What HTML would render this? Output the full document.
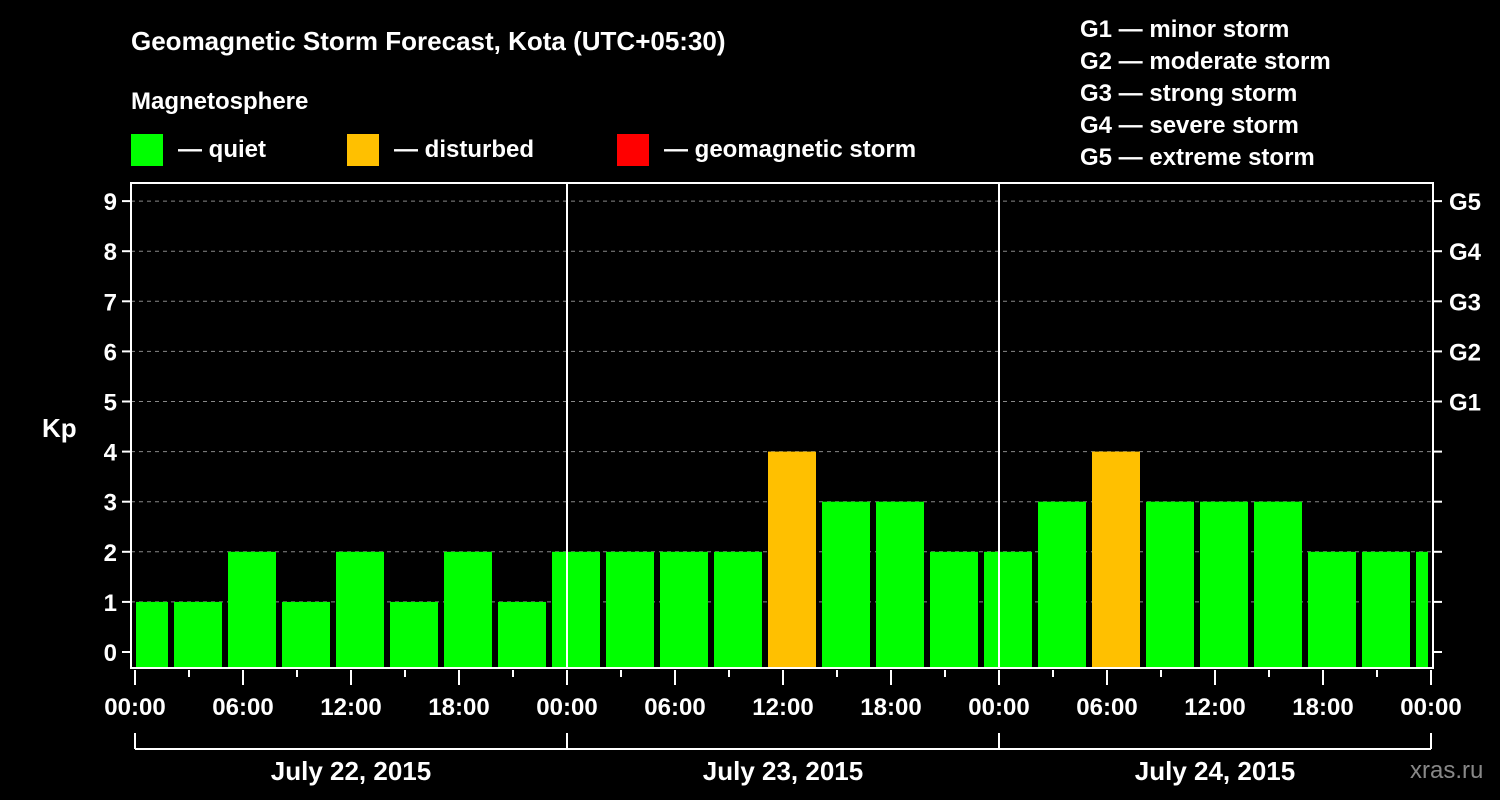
<!DOCTYPE html>
<html><head><meta charset="utf-8"><style>
body{margin:0;background:#000;}
svg{display:block;font-family:"Liberation Sans",sans-serif;font-weight:bold;}
</style></head><body>
<svg id="c" width="1500" height="800" viewBox="0 0 1500 800">
<rect width="1500" height="800" fill="#000"/>
<text x="131" y="50" fill="#fff" font-size="26">Geomagnetic Storm Forecast, Kota (UTC+05:30)</text>
<text x="131" y="109" fill="#fff" font-size="24">Magnetosphere</text>
<g><rect x="131" y="134" width="32" height="32" fill="#00ff00"/><text x="178" y="157" fill="#fff" font-size="24">— quiet</text></g>
<g><rect x="347" y="134" width="32" height="32" fill="#ffc000"/><text x="394" y="157" fill="#fff" font-size="24">— disturbed</text></g>
<g><rect x="617" y="134" width="32" height="32" fill="#ff0000"/><text x="664" y="157" fill="#fff" font-size="24">— geomagnetic storm</text></g>
<g fill="#fff" font-size="24">
<text x="1080" y="37">G1 — minor storm</text>
<text x="1080" y="69">G2 — moderate storm</text>
<text x="1080" y="101">G3 — strong storm</text>
<text x="1080" y="133">G4 — severe storm</text>
<text x="1080" y="165">G5 — extreme storm</text>
</g>
<text x="42" y="437" fill="#fff" font-size="26">Kp</text>
<text x="1410" y="778" fill="#888" font-size="24" font-weight="normal">xras.ru</text>
<g id="plot"></g>
</svg>
<script>
const kpValues=[1,1,2,1,2,1,2,1,2,2,2,2,4,3,3,2,2,3,4,3,3,3,2,2,2];
const yTicks=[0,1,2,3,4,5,6,7,8,9];
const gLabels={5:"G1",6:"G2",7:"G3",8:"G4",9:"G5"};
const xTickLabels=["00:00","06:00","12:00","18:00","00:00","06:00","12:00","18:00","00:00","06:00","12:00","18:00","00:00"];
const dayLabels=["July 22, 2015","July 23, 2015","July 24, 2015"];
const NS="http://www.w3.org/2000/svg";
const L=131,R=1433,T=183,B=668,X0=135,HPX=18;
const yS=v=>652-v*50.1;
const xS=h=>X0+h*HPX;
const g=document.getElementById('plot');
function mk(t,a){const e=document.createElementNS(NS,t);for(const k in a)e.setAttribute(k,a[k]);g.appendChild(e);return e;}
// gridlines
yTicks.forEach(v=>{if(v===0)return;const e=mk('line',{x1:L,x2:R,y1:yS(v),y2:yS(v),stroke:'#888','stroke-dasharray':'4,4','stroke-width':1});

});
// bars
kpValues.forEach((v,i)=>{const c=i*3-0.5+1.5-1.5;const cx=xS(i*3+0.5);let x1=cx-24,x2=cx+24;x1=Math.max(x1,L+5);x2=Math.min(x2,R-5);
const e=mk('rect',{x:x1,y:yS(v),width:x2-x1,height:B-1-yS(v),fill:v>=5?'#ff0000':(v>=4?'#ffc000':'#00ff00')});

});
// day separators
[1,2].forEach(d=>{const e=mk('line',{x1:xS(d*24),x2:xS(d*24),y1:T,y2:B,stroke:'#fff','stroke-width':2});

});
// frame
const fr=mk('rect',{x:L,y:T,width:R-L,height:B-T,fill:'none',stroke:'#fff','stroke-width':2});


// y ticks
yTicks.forEach(v=>{const y=yS(v);
mk('line',{x1:L-9,x2:L,y1:y,y2:y,stroke:'#fff','stroke-width':2});
mk('line',{x1:R,x2:R+9,y1:y,y2:y,stroke:'#fff','stroke-width':2});
const t=mk('text',{x:L-14,y:y+9,fill:'#fff','font-size':24,'text-anchor':'end'});t.textContent=v;


if(gLabels[v]){const t2=mk('text',{x:R+16,y:y+9,fill:'#fff','font-size':24});t2.textContent=gLabels[v];

}});
// x ticks
for(let h=0;h<=72;h+=3){const x=xS(h);mk('line',{x1:x,x2:x,y1:B+2,y2:h%6===0?B+17:B+9,stroke:'#fff','stroke-width':2});}
xTickLabels.forEach((s,i)=>{const t=mk('text',{x:xS(i*6),y:715,fill:'#fff','font-size':24,'text-anchor':'middle'});t.textContent=s;

});
// day bracket
mk('line',{x1:xS(0),x2:xS(72),y1:749,y2:749,stroke:'#fff','stroke-width':2});
for(let d=0;d<=3;d++)mk('line',{x1:xS(d*24),x2:xS(d*24),y1:733,y2:749,stroke:'#fff','stroke-width':2});
dayLabels.forEach((s,i)=>{const t=mk('text',{x:xS(i*24+12),y:780,fill:'#fff','font-size':26,'text-anchor':'middle'});t.textContent=s;

});
</script>
</body></html>
